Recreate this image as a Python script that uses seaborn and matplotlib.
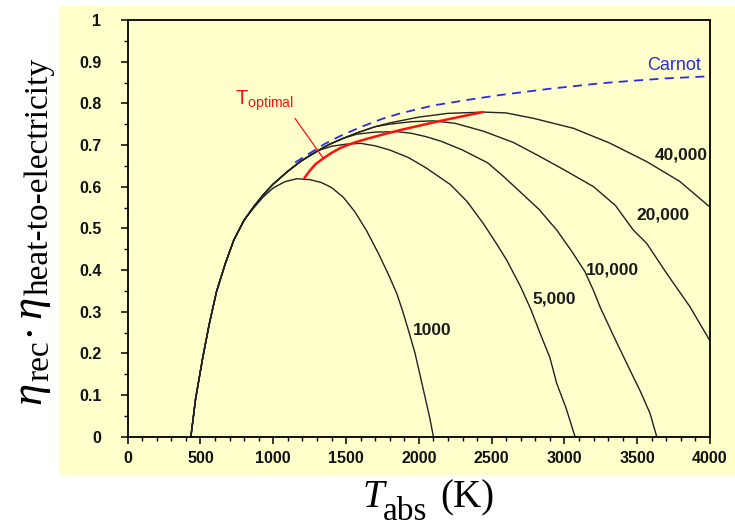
import matplotlib
matplotlib.use("Agg")
import matplotlib.pyplot as plt
import seaborn as sns
import pandas as pd
from matplotlib.patches import Rectangle
from matplotlib.transforms import IdentityTransform
from matplotlib.ticker import MultipleLocator, FuncFormatter

# ---------------- data ----------------
c1000_T = [434, 466, 514, 560, 610, 670, 729, 800, 868, 930, 1000, 1080, 1160, 1250, 1330,
           1400, 1480, 1560, 1640, 1722, 1790, 1848, 1890, 1928, 1974, 2010, 2042, 2075, 2100]
c1000_eta = [0.0, 0.09, 0.187, 0.27, 0.348, 0.415, 0.472, 0.52, 0.55, 0.575, 0.597, 0.612, 0.619,
             0.617, 0.610, 0.598, 0.575, 0.54, 0.495, 0.44, 0.39, 0.344, 0.30, 0.256, 0.20,
             0.145, 0.096, 0.045, 0.0]

c5000_T = [434, 466, 514, 560, 610, 670, 729, 800, 868, 930, 996, 1100, 1189, 1250, 1320, 1400,
           1500, 1600, 1700, 1800, 1928, 2050, 2217, 2330, 2442, 2530, 2603, 2699, 2770, 2833,
           2900, 2947, 3010, 3073]
c5000_eta = [0.0, 0.09, 0.187, 0.27, 0.348, 0.415, 0.472, 0.52, 0.553, 0.58, 0.605, 0.637, 0.661,
             0.675, 0.688, 0.697, 0.702, 0.704, 0.698, 0.688, 0.670, 0.645, 0.605, 0.565, 0.512,
             0.465, 0.424, 0.36, 0.305, 0.248, 0.19, 0.128, 0.07, 0.0]

c10000_T = [434, 466, 514, 560, 610, 670, 729, 800, 868, 930, 996, 1100, 1189, 1300, 1382, 1480,
            1574, 1700, 1850, 1950, 2050, 2153, 2300, 2474, 2580, 2667, 2750, 2827, 2900, 2947,
            3050, 3141, 3198, 3244, 3340, 3450, 3520, 3588, 3634]
c10000_eta = [0.0, 0.09, 0.187, 0.27, 0.348, 0.415, 0.472, 0.52, 0.553, 0.58, 0.605, 0.637, 0.661,
              0.685, 0.701, 0.716, 0.726, 0.731, 0.732, 0.728, 0.72, 0.709, 0.688, 0.657, 0.625,
              0.597, 0.57, 0.545, 0.515, 0.496, 0.445, 0.396, 0.352, 0.312, 0.24, 0.16, 0.11,
              0.056, 0.0]

c20000_T = [434, 466, 514, 560, 610, 670, 729, 800, 868, 930, 996, 1100, 1189, 1300, 1382, 1480,
            1574, 1700, 1800, 1950, 2100, 2250, 2445, 2650, 2834, 3000, 3200, 3350, 3473, 3565,
            3702, 3862, 4000]
c20000_eta = [0.0, 0.09, 0.187, 0.27, 0.348, 0.415, 0.472, 0.52, 0.553, 0.58, 0.605, 0.637, 0.661,
              0.685, 0.701, 0.716, 0.729, 0.744, 0.750, 0.756, 0.758, 0.752, 0.733, 0.706, 0.672,
              0.640, 0.600, 0.555, 0.496, 0.464, 0.392, 0.312, 0.230]

c40000_T = [434, 466, 514, 560, 610, 670, 729, 800, 868, 930, 996, 1100, 1189, 1300, 1382, 1480,
            1574, 1700, 1799, 1900, 2000, 2200, 2445, 2600, 2788, 3063, 3309, 3566, 3791, 4000]
c40000_eta = [0.0, 0.09, 0.187, 0.27, 0.348, 0.415, 0.472, 0.52, 0.553, 0.58, 0.605, 0.637, 0.661,
              0.685, 0.701, 0.716, 0.729, 0.744, 0.753, 0.760, 0.767, 0.776, 0.779, 0.777, 0.764,
              0.740, 0.705, 0.660, 0.613, 0.551]

carnot_T = [1150, 1250, 1350, 1450, 1600, 1750, 1873, 2100, 2330, 2559, 2900, 3245, 3500, 3703, 4000]
carnot_eta = [0.658, 0.680, 0.702, 0.720, 0.743, 0.763, 0.776, 0.795, 0.808, 0.82, 0.835, 0.848,
              0.855, 0.86, 0.865]

opt_T = [1214, 1250, 1290, 1336, 1400, 1461, 1550, 1645, 1750, 1873, 2010, 2150, 2300, 2440]
opt_eta = [0.621, 0.638, 0.654, 0.666, 0.681, 0.693, 0.705, 0.715, 0.725, 0.736, 0.747, 0.758,
           0.769, 0.779]

leader_T = [1149, 1344]
leader_eta = [0.764, 0.668]

curve_names = ["1000", "5,000", "10,000", "20,000", "40,000"]
label_T = [2090, 2928, 3327, 3677, 3801]
label_eta = [0.256, 0.330, 0.400, 0.532, 0.676]

x_ticks = [0, 500, 1000, 1500, 2000, 2500, 3000, 3500, 4000]
y_ticks = [0, 0.1, 0.2, 0.3, 0.4, 0.5, 0.6, 0.7, 0.8, 0.9, 1]

# ---------------- style ----------------
YELLOW = "#FFFFCC"
sns.set_style("ticks")
plt.rcParams["font.family"] = ["Liberation Sans", "DejaVu Sans"]
plt.rcParams["mathtext.fontset"] = "custom"
plt.rcParams["mathtext.sf"] = "Liberation Sans"
plt.rcParams["mathtext.rm"] = "Liberation Serif"
plt.rcParams["mathtext.it"] = "Liberation Serif:italic"

W, H = 735, 526
fig = plt.figure(figsize=(W / 100, H / 100), dpi=100)
fig.patch.set_facecolor("white")
fig.patches.append(Rectangle((58.6 / W, (H - 475) / H), 1 - 58.6 / W, (475 - 6) / H,
                             transform=fig.transFigure, facecolor=YELLOW,
                             edgecolor="none", zorder=-10))

ax = fig.add_axes([127.7 / W, (H - 436.7) / H, (710 - 127.7) / W, (436.7 - 20) / H])
ax.set_facecolor(YELLOW)

series = [(c1000_T, c1000_eta), (c5000_T, c5000_eta), (c10000_T, c10000_eta),
          (c20000_T, c20000_eta), (c40000_T, c40000_eta)]
df = pd.concat([pd.DataFrame({"T": t, "eta": e, "C": name})
                for name, (t, e) in zip(curve_names, series)], ignore_index=True)

sns.lineplot(x=carnot_T, y=carnot_eta, color="#2a2ae8", lw=1.3, linestyle=(0, (5, 3.5)),
             estimator=None, sort=False, ax=ax)
sns.lineplot(data=df, x="T", y="eta", hue="C", palette=["#222222"] * 5,
             estimator=None, sort=False, lw=1.0, legend=False, ax=ax)
sns.lineplot(x=opt_T, y=opt_eta, color="#ff1010", lw=1.8, estimator=None, sort=False, ax=ax)
sns.lineplot(x=leader_T, y=leader_eta, color="#ff1010", lw=0.9, estimator=None, sort=False, ax=ax)

for name, tx, ty in zip(curve_names, label_T, label_eta):
    ax.text(tx, ty, name, ha="center", va="center", fontsize=12.5, fontweight="bold",
            color="#1a1a1a")
ax.text(3753, 0.890, "Carnot", ha="center", va="center", fontsize=13, color="#2a2ae8")
ax.text(738, 0.796, r"$\mathsf{T_{optimal}}$", ha="left", va="baseline", fontsize=14.5,
        color="#ff1010")

ax.set_xlim(0, 4000)
ax.set_ylim(0, 1)
ax.set_xticks(x_ticks)
ax.set_yticks(y_ticks)
ax.xaxis.set_minor_locator(MultipleLocator(100))
ax.yaxis.set_minor_locator(MultipleLocator(0.05))
ax.xaxis.set_major_formatter(FuncFormatter(lambda v, p: f"{v:g}"))
ax.yaxis.set_major_formatter(FuncFormatter(lambda v, p: f"{v:g}"))
ax.tick_params(which="major", direction="out", length=5, width=1.1, colors="black",
               labelsize=11.5, labelcolor="#111111")
ax.tick_params(which="minor", direction="out", length=3, width=1.0, colors="black")
ax.tick_params(axis="y", which="major", pad=14)
ax.tick_params(axis="x", which="major", pad=5)
for lab in ax.get_xticklabels() + ax.get_yticklabels():
    lab.set_fontweight("bold")
for sp in ax.spines.values():
    sp.set_visible(True)
    sp.set_linewidth(1.3)
    sp.set_color("black")
ax.set_xlabel("")
ax.set_ylabel("")

# ---------------- composed axis labels ----------------
def compose(pieces, x0, y0, vertical=False):
    r = fig.canvas.get_renderer()
    pos = y0 if vertical else x0
    for s, size, style, shift, gap in pieces:
        kw = dict(fontsize=size, fontstyle=style, family=["Liberation Serif", "DejaVu Serif"],
                  transform=IdentityTransform(), ha="left", va="baseline", color="black")
        if vertical:
            t = fig.text(x0 - shift, pos, s, rotation=90, rotation_mode="anchor", **kw)
            bb = t.get_window_extent(r)
            pos += bb.height + gap
        else:
            t = fig.text(pos, y0 + shift, s, **kw)
            bb = t.get_window_extent(r)
            pos += bb.width + gap

compose([("T", 28, "italic", 0, -1), ("abs", 24, "normal", -13, 13), ("(K)", 28, "normal", 0, 0)],
        362, 19)
compose([("η", 32, "italic", 0, 1), ("rec", 24, "normal", -8, 4), ("·", 32, "normal", 0, 3),
         ("η", 32, "italic", 0, 1), ("heat-to-electricity", 24, "normal", -8, 0)],
        40, 122, vertical=True)

fig.savefig("out.png", dpi=100, facecolor="white")
